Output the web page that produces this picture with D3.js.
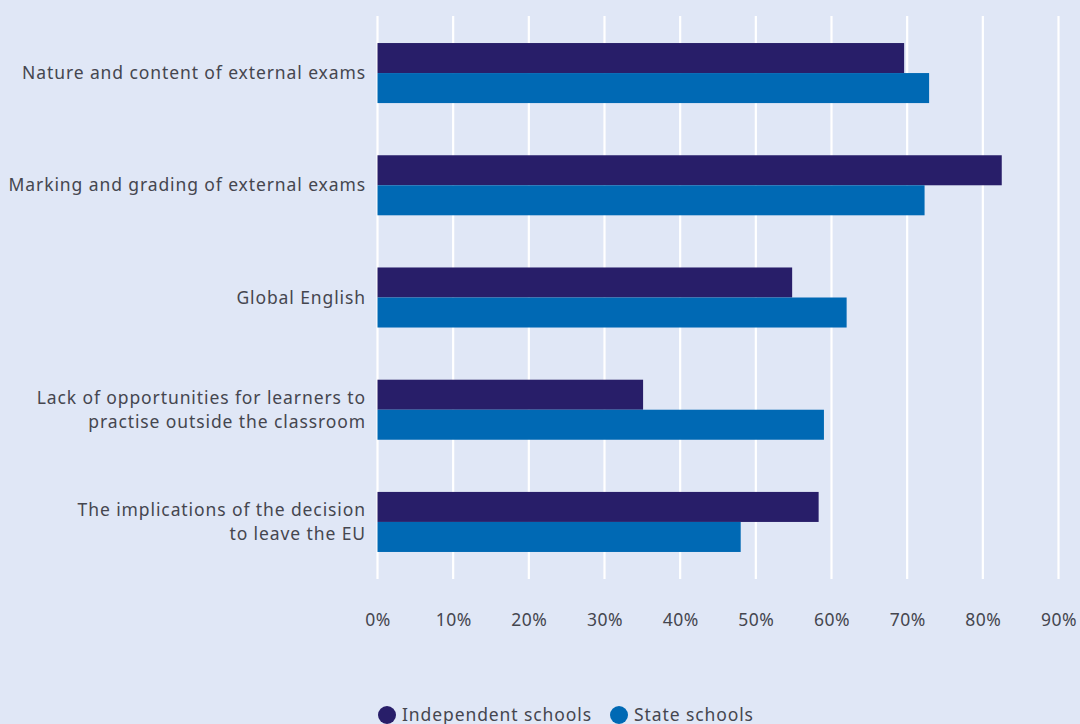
<!DOCTYPE html>
<html>
<head>
<meta charset="utf-8">
<script src="https://cdn.jsdelivr.net/npm/d3@7"></script>
<style>
  body { margin: 0; background: #e0e7f6; }
  svg { display: block; }
  text { font-family: "Noto Sans", sans-serif; fill: #45464f; }
</style>
</head>
<body>
<script>
// chart data
var categories = [
    ["Nature and content of external exams"],
    ["Marking and grading of external exams"],
    ["Global English"],
    ["Lack of opportunities for learners to", "practise outside the classroom"],
    ["The implications of the decision", "to leave the EU"]
];
var independent = [69.6, 82.5, 54.8, 35.1, 58.3];
var state = [72.9, 72.3, 62.0, 59.0, 48.0];
var seriesNames = ["Independent schools", "State schools"];
var seriesColors = ["#281e69", "#0069b4"];
var xTicks = [0, 10, 20, 30, 40, 50, 60, 70, 80, 90];

var width = 1080, height = 724;

var svg = d3.select("body").append("svg")
    .attr("width", width)
    .attr("height", height);

var x = d3.scaleLinear().domain([0, 90]).range([377.5, 1058.5]);

var y = d3.scaleBand()
    .domain(d3.range(categories.length))
    .range([17, 578])
    .paddingInner(0.465)
    .paddingOuter(0.232);

var sub = d3.scaleBand()
    .domain([0, 1])
    .range([0, y.bandwidth()]);

// gridlines
svg.append("g")
    .selectAll("line")
    .data(xTicks)
    .join("line")
    .attr("x1", function(d) { return x(d); })
    .attr("x2", function(d) { return x(d); })
    .attr("y1", 16)
    .attr("y2", 579)
    .attr("stroke", "#ffffff")
    .attr("stroke-width", 2.2);

// bars
var rows = categories.map(function(c, i) {
    return { i: i, values: [independent[i], state[i]] };
});

var group = svg.append("g")
    .selectAll("g")
    .data(rows)
    .join("g")
    .attr("transform", function(d) { return "translate(0," + y(d.i) + ")"; });

group.selectAll("rect")
    .data(function(d) { return d.values; })
    .join("rect")
    .attr("x", x(0))
    .attr("y", function(d, j) { return sub(j); })
    .attr("width", function(d) { return x(d) - x(0); })
    .attr("height", sub.bandwidth())
    .attr("fill", function(d, j) { return seriesColors[j]; });

// category labels
var lineH = 24;
svg.append("g")
    .selectAll("text")
    .data(categories)
    .join("text")
    .attr("text-anchor", "end")
    .attr("font-size", 17.5)
    .attr("letter-spacing", 0.9)
    .attr("transform", function(d, i) {
        return "translate(366," + (y(i) + y.bandwidth() / 2) + ")";
    })
    .each(function(lines) {
        var t = d3.select(this);
        var off = -(lines.length - 1) * lineH / 2;
        lines.forEach(function(l, k) {
            t.append("tspan")
                .attr("x", 0)
                .attr("y", off + k * lineH)
                .attr("dy", "0.35em")
                .text(l);
        });
    });

// x axis labels
var axis = d3.axisBottom(x)
    .tickValues(xTicks)
    .tickSize(0)
    .tickPadding(0)
    .tickFormat(function(d) { return d + "%"; });

var gx = svg.append("g")
    .attr("transform", "translate(0,614)")
    .call(axis);
gx.select(".domain").remove();
gx.selectAll("text")
    .attr("font-size", 17.5)
    .attr("letter-spacing", 0.5)
    .attr("font-family", "Noto Sans, sans-serif")
    .attr("fill", "#45464f");

// legend
var legendX = [387, 619];
var legend = svg.append("g")
    .selectAll("g")
    .data(seriesNames)
    .join("g")
    .attr("transform", function(d, i) { return "translate(" + legendX[i] + ",715)"; });

legend.append("circle")
    .attr("r", 9)
    .attr("fill", function(d, i) { return seriesColors[i]; });

legend.append("text")
    .attr("x", 15)
    .attr("y", 0)
    .attr("dy", "0.35em")
    .attr("font-size", 17.5)
    .attr("letter-spacing", 0.9)
    .text(function(d) { return d; });
</script>
</body>
</html>
